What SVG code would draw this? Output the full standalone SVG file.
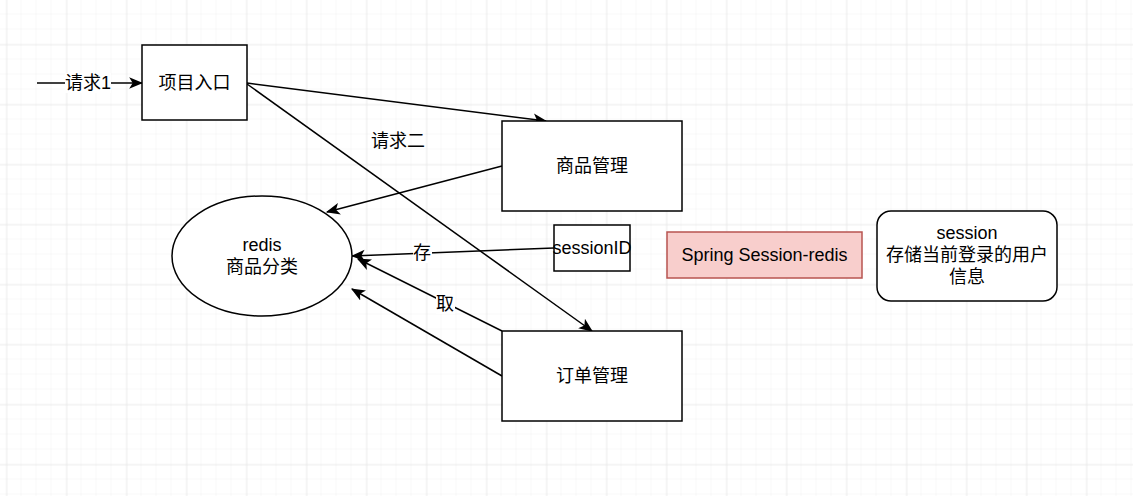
<svg xmlns="http://www.w3.org/2000/svg" width="1133" height="496" viewBox="0 0 1133 496">
<style>
.t{font-family:"Liberation Sans","Noto Sans CJK SC",sans-serif;font-size:18px;fill:#000;text-anchor:middle;dominant-baseline:central}
.n{fill:#fff;stroke:#000;stroke-width:1.5}
.c{fill:none;stroke:#000;stroke-width:1.5}
.lb{fill:#fff}
</style>
<defs>
<pattern id="minor" width="15" height="15" patternUnits="userSpaceOnUse" x="6.5" y="14.5">
<path d="M15 0V15M0 15H15" fill="none" stroke="#f1f1f1" stroke-width="1"/>
</pattern>
<pattern id="major" width="60" height="60" patternUnits="userSpaceOnUse" x="6.5" y="44.5">
<path d="M0 0V60M0 0H60" fill="none" stroke="#e2e2e2" stroke-width="1"/>
</pattern>
<marker id="ah2" viewBox="0 0 12 10" refX="11" refY="5" markerWidth="14" markerHeight="12" markerUnits="userSpaceOnUse" orient="auto">
<path d="M0 0L12 5L0 10L3 5Z" fill="#000"/>
</marker>
</defs>
<rect width="1133" height="496" fill="#fff"/>
<rect width="1133" height="496" fill="url(#minor)"/>
<rect width="1133" height="496" fill="url(#major)"/>

<g id="connectors">
<path class="c" d="M37 83H142" marker-end="url(#ah2)"/>
<rect class="lb" x="65" y="73" width="46" height="20"/>
<text class="t" x="88" y="83">请求1</text>
<path class="c" d="M247 83L546 121" marker-end="url(#ah2)"/>
<path class="c" d="M247 84L592 331" marker-end="url(#ah2)"/>
<text class="t" x="398" y="141">请求二</text>
<path class="c" d="M502 166L327 212" marker-end="url(#ah2)"/>
<path class="c" d="M554 248L352 256" marker-end="url(#ah2)"/>
<rect class="lb" x="413" y="243" width="19" height="20"/>
<text class="t" x="422" y="253">存</text>
<path class="c" d="M502 331L358 259" marker-end="url(#ah2)"/>
<rect class="lb" x="436" y="294" width="19" height="20"/>
<text class="t" x="445" y="304">取</text>
<path class="c" d="M502 376L352 289" marker-end="url(#ah2)"/>
</g>

<g id="entry">
<rect class="n" x="142" y="45" width="105" height="75"/>
<text class="t" x="194.5" y="83">项目入口</text>
</g>
<g id="goods">
<rect class="n" x="502" y="121" width="180" height="90"/>
<text class="t" x="592" y="166">商品管理</text>
</g>
<g id="order">
<rect class="n" x="502" y="331" width="180" height="90"/>
<text class="t" x="592" y="376">订单管理</text>
</g>
<g id="sessionid">
<rect class="n" x="554" y="225" width="76" height="46"/>
<text class="t" x="592" y="248">sessionID</text>
</g>
<g id="redis">
<ellipse class="n" cx="262" cy="256" rx="90" ry="60"/>
<text class="t" x="262" y="245">redis</text>
<text class="t" x="262" y="267">商品分类</text>
</g>
<g id="spring">
<rect x="667" y="232" width="195" height="46" fill="#f8cecc" stroke="#b85450" stroke-width="1.5"/>
<text class="t" x="764.5" y="255">Spring Session-redis</text>
</g>
<g id="session">
<rect class="n" x="877" y="211" width="180" height="90" rx="14"/>
<text class="t" x="967" y="233">session</text>
<text class="t" x="967" y="255">存储当前登录的用户</text>
<text class="t" x="967" y="277">信息</text>
</g>
</svg>
